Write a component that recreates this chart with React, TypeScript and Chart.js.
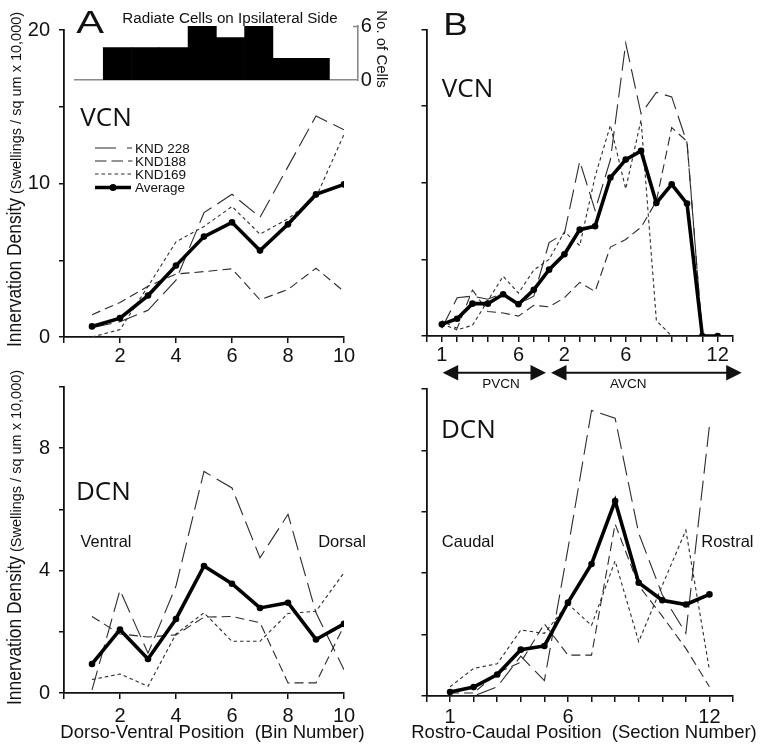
import React, { useEffect, useRef } from "react";
import { Chart, registerables } from "chart.js";

Chart.register(...registerables);

// ---------------- data ----------------
// Panel A: dorso-ventral bins
const aBins = [1, 2, 3, 4, 5, 6, 7, 8, 9, 10];
const aXTicks = [0, 2, 4, 6, 8, 10];
const aXLabels = [2, 4, 6, 8, 10];

const aVcnAverage = [0.69, 1.23, 2.7, 4.65, 6.54, 7.47, 5.63, 7.34, 9.29, 9.94];
const aVcnKnd228 = [0.6, 1.0, 1.74, 3.7, 8.1, 9.3, 7.8, 11.1, 14.4, 13.5];
const aVcnKnd188 = [1.45, 2.25, 3.3, 4.1, 4.26, 4.44, 2.42, 3.1, 4.48, 2.97];
const aVcnKnd169 = [0.0, 0.48, 3.3, 6.2, 7.2, 8.5, 6.7, 7.7, 9.1, 13.2];
const vcnYTicks = [0, 5, 10, 15, 20];
const vcnYLabels = [0, 10, 20];

const aDcnAverage = [0.95, 2.07, 1.11, 2.42, 4.15, 3.57, 2.78, 2.95, 1.75, 2.26];
const aDcnKnd228 = [0.1, 3.36, 1.3, 3.5, 7.24, 6.7, 4.42, 5.84, 2.62, 0.76];
const aDcnKnd188 = [2.5, 1.93, 1.83, 1.9, 2.48, 2.5, 2.3, 0.33, 0.33, 2.2];
const aDcnKnd169 = [0.44, 0.62, 0.22, 1.93, 2.62, 1.69, 1.69, 2.6, 2.67, 3.93];
const dcnYTicks = [0, 2, 4, 6, 8, 10];
const dcnYLabels = [0, 4, 8];

// Inset: radiate cells on ipsilateral side (per bin)
const radiateBins = ["1", "2", "3", "4", "5", "6", "7", "8", "9", "10"];
const radiateCells = [null, 3.6, 3.6, 3.6, 6, 4.7, 6, 2.4, 2.4, null];
const radiateYTicks = [0, 6];

// Panel B VCN: PVCN sections 1-7 then AVCN sections 1-12 (plotted in sequence)
const bVcnSections = ["1", "2", "3", "4", "5", "6", "7", "1", "2", "3", "4", "5", "6", "7", "8", "9", "10", "11", "12"];
const bVcnPos = bVcnSections.map((_, i) => i);
const bVcnLabelled = [0, 5, 8, 12, 18];
const bVcnXTicks = Array.from({ length: 21 }, (_, i) => i - 1);
const bVcnAverage = [0.76, 1.13, 2.11, 2.11, 2.72, 2.07, 3.02, 4.33, 5.33, 6.94, 7.16, 10.34, 11.51, 12.08, 8.68, 9.9, 8.64, 0, 0];
const bVcnKnd228 = [0.5, 2.5, 2.6, 2.4, 2.8, 2.1, 2.6, 6.1, 6.7, 11.4, 8.2, 11.5, 19.1, 14.5, 15.9, 15.6, 12.6, 0, 0];
const bVcnKnd188 = [1.0, 0.5, 3.0, 1.6, 1.5, 1.3, 2.0, 1.9, 2.5, 3.5, 2.9, 5.8, 6.3, 7.1, 8.8, 13.6, 12.7, 0, 0];
const bVcnKnd169 = [0.8, 0.4, 0.7, 2.3, 3.9, 2.8, 4.3, 5.0, 6.8, 5.9, 10.4, 13.75, 9.6, 14.1, 1.0, 0, 0, 0, 0];

// Panel B DCN: sections 1-12
const bDcnSections = [1, 2, 3, 4, 5, 6, 7, 8, 9, 10, 11, 12];
const bDcnLabelled = [1, 6, 12];
const bDcnXTicks = Array.from({ length: 14 }, (_, i) => i);
const bDcnAverage = [0.13, 0.29, 0.7, 1.51, 1.63, 3.04, 4.3, 6.35, 3.69, 3.12, 2.98, 3.31];
const bDcnKnd228 = [0, 0, 0.3, 1.3, 0.5, 4.8, 9.3, 9.05, 5.3, 3.3, 2.04, 8.8];
const bDcnKnd188 = [0.1, 0.1, 0.75, 1.1, 2.35, 1.33, 1.33, 5.6, 3.6, 2.6, 1.55, 0.3];
const bDcnKnd169 = [0.3, 0.9, 1.05, 2.15, 2.04, 3.0, 2.3, 4.4, 1.77, 3.6, 5.4, 0.85];

// ---------------- styling / layout ----------------
const PAGE_W = 764;
const PAGE_H = 748;
const SANS = '"Liberation Sans", Arial, Helvetica, sans-serif';
const ROUND = '"Open Sans", "Liberation Sans", sans-serif';
const INK = "#111111";
const THIN = "#2b2b2b";
const GREY = "#8a8a8a";
const Y_AXIS_W = 60;
const X_AXIS_H = 40;
const INSET_Y_W = 30;
const DASH_228 = [20, 7];
const DASH_188 = [9, 5];
const DASH_169 = [3.5, 3];

type Box = { left: number; top: number; right: number; bottom: number };
const boxA1: Box = { left: 64, top: 30, right: 344, bottom: 337 };
const boxA2: Box = { left: 64, top: 387, right: 344, bottom: 693 };
const boxB1: Box = { left: 426.5, top: 29.5, right: 733, bottom: 336 };
const boxB2: Box = { left: 426.5, top: 389, right: 733, bottom: 696 };

Chart.defaults.font.family = SANS;

function paddingFor(b: Box) {
  return {
    left: b.left - Y_AXIS_W,
    top: b.top,
    right: PAGE_W - b.right,
    bottom: PAGE_H - b.bottom - X_AXIS_H,
  };
}

function xy(xs: number[], ys: (number | null)[]) {
  return xs.map((x, i) => ({ x, y: ys[i] }));
}

function seriesSet(xs: number[], avg: number[], s228: number[], s188: number[], s169: number[]) {
  const thin = (label: string, ys: number[], dash: number[]) => ({
    label,
    data: xy(xs, ys),
    borderColor: THIN,
    borderWidth: 1.1,
    borderDash: dash,
    pointRadius: 0,
    tension: 0,
    fill: false,
  });
  return [
    {
      label: "Average",
      data: xy(xs, avg),
      borderColor: "#000",
      backgroundColor: "#000",
      borderWidth: 3.6,
      pointRadius: 3.3,
      pointBackgroundColor: "#000",
      pointBorderColor: "#000",
      pointBorderWidth: 0,
      tension: 0,
      fill: false,
    },
    thin("KND 228", s228, DASH_228),
    thin("KND188", s188, DASH_188),
    thin("KND169", s169, DASH_169),
  ];
}

function xAxis(min: number, max: number, ticks: number[], label: (v: number) => string, pad: number) {
  return {
    type: "linear",
    position: "bottom",
    min,
    max,
    afterBuildTicks: (s: any) => {
      s.ticks = ticks.map((v) => ({ value: v }));
    },
    afterFit: (s: any) => {
      s.height = X_AXIS_H;
    },
    ticks: {
      autoSkip: false,
      maxRotation: 0,
      minRotation: 0,
      padding: pad,
      color: INK,
      font: { family: SANS, size: 20 },
      callback: (v: any) => label(Number(v)),
    },
    grid: { display: true, drawOnChartArea: false, drawTicks: true, tickLength: 6, color: INK, lineWidth: 1.5 },
    border: { display: true, color: INK, width: 1.8 },
  };
}

function yAxis(min: number, max: number, ticks: number[], labelled: number[]) {
  return {
    type: "linear",
    position: "left",
    min,
    max,
    afterBuildTicks: (s: any) => {
      s.ticks = ticks.map((v) => ({ value: v }));
    },
    afterFit: (s: any) => {
      s.width = Y_AXIS_W;
    },
    ticks: {
      padding: 9,
      color: INK,
      font: { family: SANS, size: 20 },
      callback: (v: any) => (labelled.includes(Number(v)) ? String(v) : ""),
    },
    grid: { display: true, drawOnChartArea: false, drawTicks: true, tickLength: 5, color: INK, lineWidth: 1.5 },
    border: { display: true, color: INK, width: 1.8 },
  };
}

// ---------------- drawing helpers ----------------
type TOpts = { align?: CanvasTextAlign; family?: string; sx?: number; maxWidth?: number; rotate?: number; color?: string };
function text(ctx: CanvasRenderingContext2D, s: string, x: number, y: number, size: number, o: TOpts = {}) {
  ctx.save();
  ctx.translate(x, y);
  if (o.rotate) ctx.rotate(o.rotate);
  if (o.sx) ctx.scale(o.sx, 1);
  ctx.font = `${size}px ${o.family ?? SANS}`;
  ctx.fillStyle = o.color ?? INK;
  ctx.textAlign = o.align ?? "center";
  ctx.textBaseline = "alphabetic";
  if (o.maxWidth) ctx.fillText(s, 0, 0, o.maxWidth);
  else ctx.fillText(s, 0, 0);
  ctx.restore();
}

function yTitle(ctx: CanvasRenderingContext2D, baseX: number, startY: number) {
  ctx.save();
  ctx.translate(baseX, startY);
  ctx.rotate(-Math.PI / 2);
  ctx.fillStyle = INK;
  ctx.textAlign = "left";
  ctx.textBaseline = "alphabetic";
  ctx.font = `20px ${SANS}`;
  ctx.fillText("Innervation Density", 0, 0, 149);
  ctx.font = `14.5px ${SANS}`;
  ctx.fillText("(Swellings / sq um x 10,000)", 153, 0, 183);
  ctx.restore();
}

function dblArrow(ctx: CanvasRenderingContext2D, x1: number, x2: number, y: number) {
  const hl = 15.5;
  const hh = 7.8;
  ctx.save();
  ctx.strokeStyle = INK;
  ctx.fillStyle = INK;
  ctx.lineWidth = 2;
  ctx.beginPath();
  ctx.moveTo(x1 + hl - 1, y);
  ctx.lineTo(x2 - hl + 1, y);
  ctx.stroke();
  ctx.beginPath();
  ctx.moveTo(x1, y);
  ctx.lineTo(x1 + hl, y - hh);
  ctx.lineTo(x1 + hl, y + hh);
  ctx.closePath();
  ctx.fill();
  ctx.beginPath();
  ctx.moveTo(x2, y);
  ctx.lineTo(x2 - hl, y - hh);
  ctx.lineTo(x2 - hl, y + hh);
  ctx.closePath();
  ctx.fill();
  ctx.restore();
}

function legendA(ctx: CanvasRenderingContext2D) {
  const x0 = 95;
  const rows = [
    { label: "KND 228", y: 148, dash: [21, 11, 5, 200], w: 1.2 },
    { label: "KND188", y: 161, dash: [11.5, 5], w: 1.2 },
    { label: "KND169", y: 174, dash: [3.5, 3], w: 1.2 },
  ];
  ctx.save();
  ctx.strokeStyle = THIN;
  rows.forEach((r) => {
    ctx.setLineDash(r.dash);
    ctx.lineWidth = r.w;
    ctx.beginPath();
    ctx.moveTo(x0, r.y);
    ctx.lineTo(x0 + 37.5, r.y);
    ctx.stroke();
    text(ctx, r.label, 135, r.y + 4.8, 13.5, { align: "left" });
  });
  ctx.setLineDash([]);
  ctx.strokeStyle = "#000";
  ctx.lineWidth = 3.6;
  ctx.beginPath();
  ctx.moveTo(x0, 187.5);
  ctx.lineTo(x0 + 36, 187.5);
  ctx.stroke();
  ctx.fillStyle = "#000";
  ctx.beginPath();
  ctx.arc(113, 187.5, 3.5, 0, Math.PI * 2);
  ctx.fill();
  ctx.restore();
  text(ctx, "Average", 135, 192.3, 13.5, { align: "left" });
}

function decorPlugin(id: string, draw: (ctx: CanvasRenderingContext2D) => void) {
  return {
    id,
    afterDraw(chart: any) {
      const ctx = chart.ctx as CanvasRenderingContext2D;
      ctx.save();
      draw(ctx);
      ctx.restore();
    },
  };
}

function panelConfig(box: Box, x: any, y: any, datasets: any[], decor: any) {
  return {
    type: "line",
    data: { datasets },
    options: {
      responsive: false,
      animation: false,
      events: [],
      layout: { padding: paddingFor(box) },
      plugins: { legend: { display: false }, tooltip: { enabled: false }, title: { display: false } },
      scales: { x, y },
    },
    plugins: [decor],
  };
}

function buildConfigs(): any[] {
  const aLabel = (v: number) => (aXLabels.includes(v) ? String(v) : "");
  const a1 = panelConfig(
    boxA1,
    xAxis(0, 10, aXTicks, aLabel, 1),
    yAxis(0, 20, vcnYTicks, vcnYLabels),
    seriesSet(aBins, aVcnAverage, aVcnKnd228, aVcnKnd188, aVcnKnd169),
    decorPlugin("decorA1", (ctx) => {
      text(ctx, "A", 90, 33.3, 32, { sx: 1.3 });
      text(ctx, "VCN", 106, 126, 26, { family: ROUND });
      legendA(ctx);
      yTitle(ctx, 20.5, 347);
    })
  );
  const a2 = panelConfig(
    boxA2,
    xAxis(0, 10, aXTicks, aLabel, 5),
    yAxis(0, 10, dcnYTicks, dcnYLabels),
    seriesSet(aBins, aDcnAverage, aDcnKnd228, aDcnKnd188, aDcnKnd169),
    decorPlugin("decorA2", (ctx) => {
      text(ctx, "DCN", 103.3, 500, 26, { family: ROUND });
      text(ctx, "Ventral", 106, 547, 16.5, { maxWidth: 51 });
      text(ctx, "Dorsal", 342, 547, 16.5, { maxWidth: 49 });
      text(ctx, "Dorso-Ventral Position  (Bin Number)", 212.5, 738.3, 18.5);
      yTitle(ctx, 20.5, 705);
    })
  );
  const b1Label = (v: number) => (bVcnLabelled.includes(v) ? bVcnSections[v] : "");
  const b1 = panelConfig(
    boxB1,
    xAxis(-1, 19, bVcnXTicks, b1Label, 1),
    yAxis(0, 20, vcnYTicks, []),
    seriesSet(bVcnPos, bVcnAverage, bVcnKnd228, bVcnKnd188, bVcnKnd169),
    decorPlugin("decorB1", (ctx) => {
      text(ctx, "B", 455.5, 35, 32, { sx: 1.15 });
      text(ctx, "VCN", 467.5, 96.7, 26, { family: ROUND });
      dblArrow(ctx, 442.7, 546, 372.7);
      dblArrow(ctx, 551, 741.7, 372.7);
      text(ctx, "PVCN", 501, 388, 13.5);
      text(ctx, "AVCN", 628.3, 388, 13.5);
    })
  );
  const b2Label = (v: number) => (bDcnLabelled.includes(v) ? String(v) : "");
  const b2 = panelConfig(
    boxB2,
    xAxis(0, 13, bDcnXTicks, b2Label, 3),
    yAxis(0, 10, dcnYTicks, []),
    seriesSet(bDcnSections, bDcnAverage, bDcnKnd228, bDcnKnd188, bDcnKnd169),
    decorPlugin("decorB2", (ctx) => {
      text(ctx, "DCN", 468.3, 438.3, 26, { family: ROUND });
      text(ctx, "Caudal", 468, 546.7, 16.5, { maxWidth: 54 });
      text(ctx, "Rostral", 727.4, 547, 16.5, { maxWidth: 54 });
      text(ctx, "Rostro-Caudal Position  (Section Number)", 584, 738.3, 18.5);
    })
  );
  const inset = {
    type: "bar",
    data: {
      labels: radiateBins,
      datasets: [
        {
          label: "Radiate Cells on Ipsilateral Side",
          data: radiateCells,
          backgroundColor: "#000",
          borderWidth: 0,
          barPercentage: 1,
          categoryPercentage: 1,
        },
      ],
    },
    options: {
      responsive: false,
      animation: false,
      events: [],
      layout: { padding: { left: 75, top: 26, right: PAGE_W - 357.7 - INSET_Y_W, bottom: PAGE_H - 80 - 1 } },
      plugins: { legend: { display: false }, tooltip: { enabled: false } },
      scales: {
        x: {
          type: "category",
          offset: true,
          afterFit: (s: any) => {
            s.height = 1;
          },
          ticks: { display: false },
          grid: { display: false, drawTicks: false },
          border: { display: true, color: GREY, width: 1.6 },
        },
        y: {
          type: "linear",
          position: "right",
          min: 0,
          max: 6,
          afterBuildTicks: (s: any) => {
            s.ticks = radiateYTicks.map((v) => ({ value: v }));
          },
          afterFit: (s: any) => {
            s.width = INSET_Y_W;
          },
          ticks: { padding: 3, color: INK, font: { family: SANS, size: 20 } },
          grid: { display: false, drawTicks: false },
          border: { display: true, color: GREY, width: 1.6 },
        },
      },
    },
    plugins: [
      decorPlugin("decorInset", (ctx) => {
        text(ctx, "Radiate Cells on Ipsilateral Side", 230, 23.3, 15.2);
        text(ctx, "No. of Cells", 376.5, 49, 15, { rotate: Math.PI / 2 });
        ctx.strokeStyle = GREY;
        ctx.lineWidth = 1.6;
        ctx.beginPath();
        ctx.moveTo(353, 26.5);
        ctx.lineTo(358.5, 26.5);
        ctx.stroke();
      }),
    ],
  };
  return [a1, a2, b1, b2, inset];
}

export default function App() {
  const canvases = useRef<(HTMLCanvasElement | null)[]>([]);
  useEffect(() => {
    const configs = buildConfigs();
    const charts = configs.map((cfg, i) => new Chart(canvases.current[i] as HTMLCanvasElement, cfg));
    return () => charts.forEach((c) => c.destroy());
  }, []);
  return (
    <div style={{ position: "absolute", left: 0, top: 0, width: PAGE_W, height: PAGE_H, background: "#fff", overflow: "hidden" }}>
      {[0, 1, 2, 3, 4].map((i) => (
        <canvas
          key={i}
          ref={(el) => {
            canvases.current[i] = el;
          }}
          width={PAGE_W}
          height={PAGE_H}
          style={{ position: "absolute", left: 0, top: 0, width: PAGE_W, height: PAGE_H }}
        />
      ))}
    </div>
  );
}
